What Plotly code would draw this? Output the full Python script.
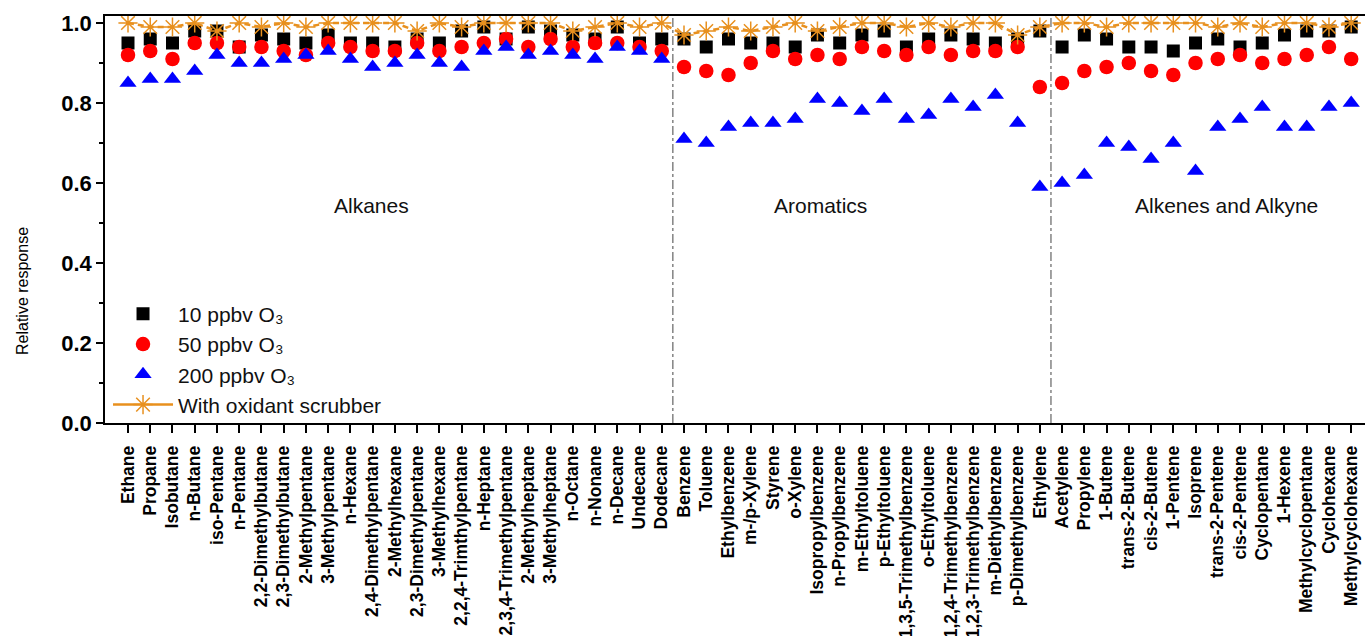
import plotly.graph_objects as go

alkanes = ["Ethane", "Propane", "Isobutane", "n-Butane", "iso-Pentane", "n-Pentane",
           "2,2-Dimethylbutane", "2,3-Dimethylbutane", "2-Methylpentane", "3-Methylpentane",
           "n-Hexane", "2,4-Dimethylpentane", "2-Methylhexane", "2,3-Dimethylpentane",
           "3-Methylhexane", "2,2,4-Trimthylpentane", "n-Heptane", "2,3,4-Trimethylpentane",
           "2-Methylheptane", "3-Methylheptane", "n-Octane", "n-Nonane", "n-Decane",
           "Undecane", "Dodecane"]
aromatics = ["Benzene", "Toluene", "Ethylbenzene", "m-/p-Xylene", "Styrene", "o-Xylene",
             "Isopropylbenzene", "n-Propylbenzene", "m-Ethyltoluene", "p-Ethyltoluene",
             "1,3,5-Trimethylbenzene", "o-Ethyltoluene", "1,2,4-Trimethylbenzene",
             "1,2,3-Trimethylbenzene", "m-Diethylbenzene", "p-Dimethylbenzene", "Ethylene"]
alkenes = ["Acetylene", "Propylene", "1-Butene", "trans-2-Butene", "cis-2-Butene",
           "1-Pentene", "Isoprene", "trans-2-Pentene", "cis-2-Pentene", "Cyclopentane",
           "1-Hexene", "Methylcyclopentane", "Cyclohexane", "Methylcyclohexane"]
categories = alkanes + aromatics + alkenes

o3_10 = [0.95, 0.96, 0.95, 0.98, 0.98, 0.94, 0.97, 0.96, 0.95, 0.97, 0.95, 0.95, 0.94,
         0.96, 0.95, 0.98, 0.99, 0.96, 0.99, 0.98, 0.97, 0.96, 0.99, 0.95, 0.96,
         0.96, 0.94, 0.96, 0.95, 0.95, 0.94, 0.97, 0.95, 0.97, 0.98, 0.94, 0.96, 0.97,
         0.96, 0.95, 0.96, 0.98,
         0.94, 0.97, 0.96, 0.94, 0.94, 0.93, 0.95, 0.96, 0.94, 0.95, 0.97, 0.98, 0.98, 0.99]
o3_50 = [0.92, 0.93, 0.91, 0.95, 0.95, 0.94, 0.94, 0.93, 0.92, 0.95, 0.94, 0.93, 0.93,
         0.95, 0.93, 0.94, 0.95, 0.96, 0.94, 0.96, 0.94, 0.95, 0.95, 0.94, 0.93,
         0.89, 0.88, 0.87, 0.90, 0.93, 0.91, 0.92, 0.91, 0.94, 0.93, 0.92, 0.94, 0.92,
         0.93, 0.93, 0.94, 0.84,
         0.85, 0.88, 0.89, 0.90, 0.88, 0.87, 0.90, 0.91, 0.92, 0.90, 0.91, 0.92, 0.94, 0.91]
o3_200 = [0.85, 0.86, 0.86, 0.88, 0.92, 0.90, 0.90, 0.91, 0.92, 0.93, 0.91, 0.89, 0.90,
          0.92, 0.90, 0.89, 0.93, 0.94, 0.92, 0.93, 0.92, 0.91, 0.94, 0.93, 0.91,
          0.71, 0.70, 0.74, 0.75, 0.75, 0.76, 0.81, 0.80, 0.78, 0.81, 0.76, 0.77, 0.81,
          0.79, 0.82, 0.75, 0.59,
          0.60, 0.62, 0.70, 0.69, 0.66, 0.70, 0.63, 0.74, 0.76, 0.79, 0.74, 0.74, 0.79, 0.80]
scrubber = [1.00, 0.99, 0.99, 1.00, 0.98, 1.00, 0.99, 1.00, 0.99, 1.00, 1.00, 1.00, 1.00,
            0.98, 1.00, 0.99, 1.00, 1.00, 1.00, 1.00, 0.98, 0.99, 1.00, 0.99, 1.00,
            0.97, 0.98, 0.99, 0.98, 0.99, 1.00, 0.98, 0.99, 1.00, 1.00, 0.99, 1.00, 0.99,
            1.00, 1.00, 0.97, 0.99,
            1.00, 1.00, 0.99, 1.00, 1.00, 1.00, 1.00, 0.99, 1.00, 0.99, 1.00, 1.00, 0.99, 1.00]

group_labels = ["Alkanes", "Aromatics", "Alkenes and Alkyne"]
group_label_pos = [10.93, 31.13, 49.4]
group_label_y = 0.545
divider_pos = [24.5, 41.5]

xi = list(range(len(categories)))
FONT = "Liberation Sans, Arial, sans-serif"
ORANGE = "#E8901E"
STAR = "#F0A040"

fig = go.Figure()
fig.add_trace(go.Scatter(x=xi, y=o3_10, mode="markers", name="10 ppbv O₃",
                         marker=dict(symbol="square", size=13, color="black")))
fig.add_trace(go.Scatter(x=xi, y=o3_50, mode="markers", name="50 ppbv O₃",
                         marker=dict(symbol="circle", size=14.5, color="#FF0000")))
fig.add_trace(go.Scatter(x=xi, y=o3_200, mode="markers", name="200 ppbv O₃",
                         marker=dict(symbol="triangle-up", size=15, color="#0000FF")))
fig.add_trace(go.Scatter(x=xi, y=scrubber, mode="lines+markers", showlegend=False,
                         line=dict(color=ORANGE, width=2.5, dash="6px,4px"),
                         marker=dict(symbol="asterisk-open", size=16,
                                     line=dict(color=STAR, width=1.5))))
fig.add_trace(go.Scatter(x=[None], y=[None], mode="lines+markers", name="With oxidant scrubber",
                         line=dict(color=ORANGE, width=2.5),
                         marker=dict(symbol="asterisk-open", size=16,
                                     line=dict(color=STAR, width=1.5))))

for xp in divider_pos:
    fig.add_shape(type="line", xref="x", yref="paper", x0=xp, x1=xp, y0=0, y1=1,
                  line=dict(color="#444444", width=1, dash="dashdot"))

for lab, xp in zip(group_labels, group_label_pos):
    fig.add_annotation(x=xp, y=group_label_y, xref="x", yref="y", text=lab, showarrow=False,
                       font=dict(family=FONT, size=21, color="#111111"))

fig.add_annotation(x=(22 - 105) / 1260, y=0.33, xref="paper", yref="y",
                   text="Relative response", textangle=-90, showarrow=False, xanchor="center",
                   font=dict(family=FONT, size=16, color="black"))

fig.update_layout(
    width=1365, height=636,
    margin=dict(l=105, r=0, t=16, b=213, autoexpand=False),
    paper_bgcolor="white", plot_bgcolor="white",
    font=dict(family=FONT, color="black"),
    legend=dict(x=0.0024, y=0.318, xanchor="left", yanchor="top",
                font=dict(family=FONT, size=21, color="#111111"),
                bgcolor="rgba(0,0,0,0)", tracegroupgap=0, itemwidth=60),
    xaxis=dict(range=[-1.034, 55.62], tickmode="array", tickvals=xi, ticktext=categories,
               tickangle=-90, ticks="outside", ticklen=8, tickwidth=1.5, tickcolor="black",
               ticklabelstandoff=6,
               showline=True, linecolor="black", linewidth=1.5, mirror=True,
               showgrid=False, zeroline=False, automargin=False,
               tickfont=dict(family=FONT, size=17.5, color="black", weight="bold")),
    yaxis=dict(range=[0, 1.0175], tickmode="array", tickvals=[0, 0.2, 0.4, 0.6, 0.8, 1.0],
               ticktext=["0.0", "0.2", "0.4", "0.6", "0.8", "1.0"],
               ticks="outside", ticklen=7, tickwidth=1.5, tickcolor="black",
               minor=dict(tickvals=[0.1, 0.3, 0.5, 0.7, 0.9], ticks="outside", ticklen=4,
                          tickwidth=1.5, tickcolor="black"),
               showline=True, linecolor="black", linewidth=1.5, mirror=True,
               showgrid=False, zeroline=False, automargin=False,
               tickfont=dict(family=FONT, size=22, color="black", weight="bold")),
)

fig.write_html("out.html")
